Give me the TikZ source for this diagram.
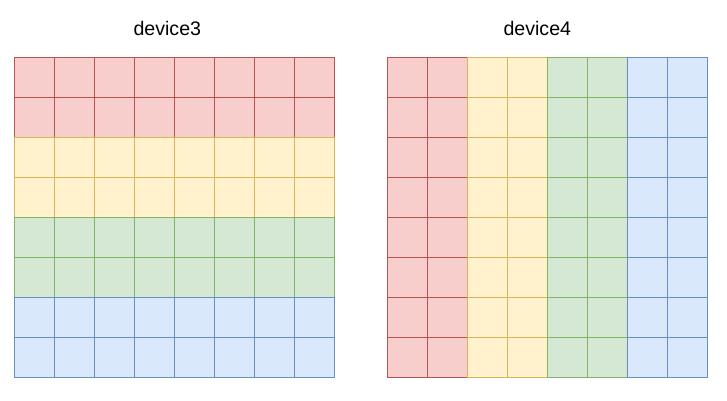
\documentclass[tikz,border=0pt]{standalone}
\usepackage{fontspec}
\setmainfont{Liberation Sans}
\definecolor{redF}{HTML}{F8CECC}\definecolor{redD}{HTML}{B85450}
\definecolor{yelF}{HTML}{FFF2CC}\definecolor{yelD}{HTML}{D6B656}
\definecolor{grnF}{HTML}{D5E8D4}\definecolor{grnD}{HTML}{82B366}
\definecolor{bluF}{HTML}{DAE8FC}\definecolor{bluD}{HTML}{6C8EBF}
\tikzset{
  cell/.style={draw, line width=1pt, minimum size=40pt, inner sep=0pt, outer sep=0pt},
  c1/.style={cell, fill=redF, draw=redD},
  c2/.style={cell, fill=yelF, draw=yelD},
  c3/.style={cell, fill=grnF, draw=grnD},
  c4/.style={cell, fill=bluF, draw=bluD},
  title/.style={font=\fontsize{19.6pt}{22pt}\selectfont, anchor=base, inner sep=0pt}
}
\begin{document}
\begin{tikzpicture}[x=1pt,y=-1pt]
\useasboundingbox (0,0) rectangle (727,400);
\node[title] (t3) at (167.3,35) {device3};
\node[title] (t4) at (537.3,35) {device4};
% left grid: rows coloured
\foreach \r in {0,...,7}{
  \pgfmathtruncatemacro{\g}{int(\r/2)+1}
  \foreach \c in {0,...,7}{
    \node[c\g] (L-\r-\c) at (34.3+40*\c, 77.3+40*\r) {};
  }
}
% right grid: columns coloured
\foreach \c in {0,...,7}{
  \pgfmathtruncatemacro{\g}{int(\c/2)+1}
  \foreach \r in {0,...,7}{
    \node[c\g] (R-\r-\c) at (407.3+40*\c, 77.3+40*\r) {};
  }
}
\end{tikzpicture}
\end{document}
